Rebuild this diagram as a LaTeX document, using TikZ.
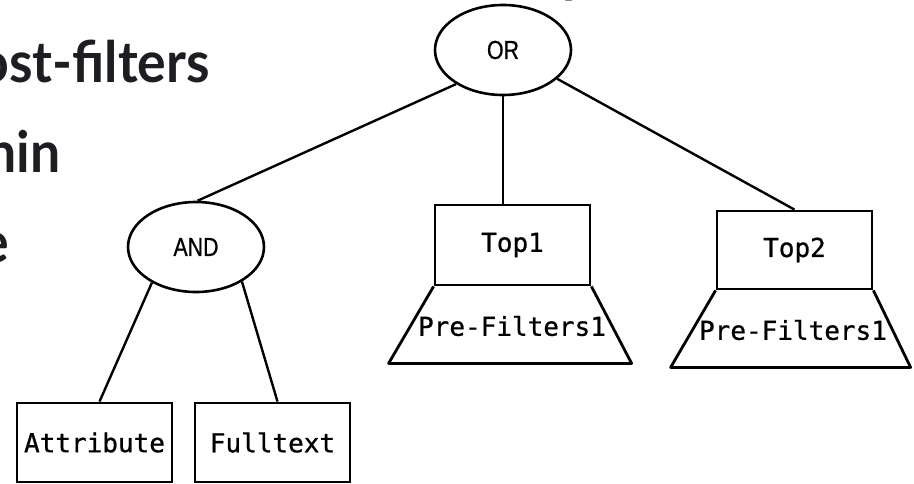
\documentclass[tikz,border=0pt]{standalone}
\usepackage{fontspec}
\newfontfamily\codefont[FakeBold=0.8]{DejaVu Sans Mono}
\newfontfamily\opfont[FakeStretch=0.82,FakeBold=0.8]{Liberation Sans}
\newfontfamily\titlefont[FakeStretch=0.94]{Lato}
\usetikzlibrary{shapes.geometric,calc}
\definecolor{ink}{HTML}{1E1E22}

\begin{document}
\begin{tikzpicture}[x=1pt,y=-1pt,
  op/.style={ellipse, draw, line width=2.6pt, minimum width=136pt,
    minimum height=90pt, inner sep=0pt,
    font=\opfont\fontsize{26}{26}\selectfont},
  codebox/.style={rectangle, draw, line width=2.8pt, minimum width=155pt,
    minimum height=80pt, inner sep=0pt,
    font=\codefont\fontsize{26}{26}\selectfont},
  codetext/.style={inner sep=0pt, font=\codefont\fontsize{26}{26}\selectfont},
  boxline/.style={line width=2.8pt, line join=round},
  link/.style={line width=2.4pt},
  headline/.style={font=\titlefont\bfseries\fontsize{57}{57}\selectfont,
    text=ink, anchor=base east, inner sep=0pt}]
\useasboundingbox (0,0) rectangle (914,484);

% heading fragments
\node[headline] (h1) at (210,83) {ost-filters};
\node[headline] (h2) at (61,173) {nin};
\node[headline] (h3) at (9,262) {e};
\node[headline, anchor=base west] (h4) at (562,-8) {p};

% operator nodes
\node[op] (or) at (503,50) {OR};
\node[op] (and) at (196,247) {AND};

% leaf boxes
\node[codebox] (top1) at (512.5,245) {Top1};
\node[codebox, minimum height=78pt] (top2) at (794.5,250) {Top2};
\node[codebox, minimum height=79pt] (attr) at (94.5,442.5) {Attribute};
\node[codebox, minimum height=79pt] (full) at (272.5,442.5) {Fulltext};

% filter trapezoids under the top-k boxes
\draw[boxline] (top1.south west) -- ++(-45,77) -- ++(243,0) -- (top1.south east);
\node[codetext] (pf1) at (512,326) {Pre-Filters1};
\draw[boxline] (top2.south west) -- ++(-45,77) -- ++(240,0) -- (top2.south east);
\node[codetext] (pf2) at (793,330) {Pre-Filters1};

% tree edges
\draw[link] (or.216) -- (and.88);
\draw[link] (or.south) -- (or.south |- top1.north);
\draw[link] (or.332) -- (top2.north);
\draw[link] (and.219) -- ([xshift=5pt]attr.north);
\draw[link] (and.323) -- ([xshift=5pt]full.north);
\end{tikzpicture}
\end{document}
